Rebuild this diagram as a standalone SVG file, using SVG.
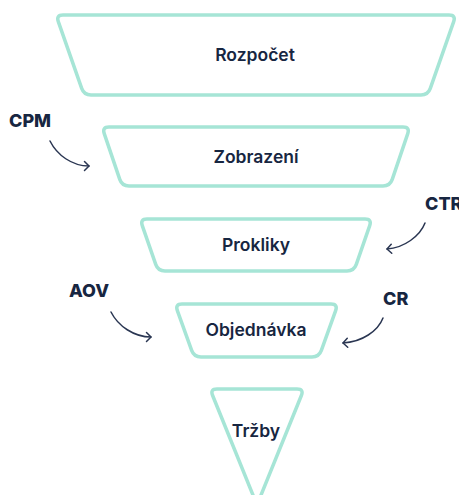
<svg xmlns="http://www.w3.org/2000/svg" width="459" height="495" viewBox="0 0 459 495">
  <defs>
    <style>
      .shape { fill: #ffffff; stroke: #a6e5d6; stroke-width: 3.5; }
      .node-label { font-family: Inter, "Noto Sans", "DejaVu Sans", sans-serif; font-weight: 600; font-size: 17.5px; fill: #172641; text-anchor: middle; }
      .metric { font-family: Inter, "Noto Sans", "DejaVu Sans", sans-serif; font-weight: 800; font-size: 18px; fill: #172641; }
      .conn { fill: none; stroke: #2a3652; stroke-width: 1.5; stroke-linecap: round; }
    </style>
    <marker id="chev" markerUnits="userSpaceOnUse" markerWidth="14" markerHeight="14" refX="10" refY="7" orient="auto" overflow="visible">
      <path d="M5.5,2.5 L10,7 L5.5,11.5" fill="none" stroke="#2a3652" stroke-width="1.5" stroke-linecap="round" stroke-linejoin="round"/>
    </marker>
  </defs>
  <rect width="459" height="495" fill="#ffffff"/>

  <g id="rozpocet">
    <path class="shape" d="M63,15 H449 Q456,15 453.69,21.61 L430.31,88.39 Q428,95 421,95 H91 Q84,95 81.69,88.39 L58.31,21.61 Q56,15 63,15 Z"/>
    <text class="node-label" x="255" y="61">Rozpočet</text>
  </g>

  <g id="zobrazeni">
    <path class="shape" d="M109,127 H403 Q410,127 407.75,133.63 L392.25,179.37 Q390,186 383,186 H129 Q122,186 119.75,179.37 L104.25,133.63 Q102,127 109,127 Z"/>
    <text class="node-label" x="256" y="163">Zobrazení</text>
  </g>

  <g id="prokliky">
    <path class="shape" d="M147,219 H365 Q372,219 369.71,225.61 L356.29,264.39 Q354,271 347,271 H165 Q158,271 155.71,264.39 L142.29,225.61 Q140,219 147,219 Z"/>
    <text class="node-label" x="256" y="251">Prokliky</text>
  </g>

  <g id="objednavka">
    <path class="shape" d="M182,304 H331 Q338,304 335.64,310.59 L321.36,350.41 Q319,357 312,357 H201 Q194,357 191.64,350.41 L177.36,310.59 Q175,304 182,304 Z"/>
    <text class="node-label" x="256" y="336">Objednávka</text>
  </g>

  <g id="trzby">
    <path class="shape" d="M217,389 H297 Q304,389 301.37,395.49 L259.63,498.51 Q257,505 254.37,498.51 L212.63,395.49 Q210,389 217,389 Z"/>
    <text class="node-label" x="256" y="437">Tržby</text>
  </g>

  <g id="cpm"><text class="metric" x="9" y="127">CPM</text></g>
  <g id="ctr"><text class="metric" x="425" y="210">CTR</text></g>
  <g id="aov"><text class="metric" x="69" y="297">AOV</text></g>
  <g id="cr"><text class="metric" x="383" y="305">CR</text></g>

  <g id="connectors">
    <path class="conn" marker-end="url(#chev)" d="M50,141 C57,155 72,166 89,166"/>
    <path class="conn" marker-end="url(#chev)" d="M425,223 C420,236 404,248 387,249"/>
    <path class="conn" marker-end="url(#chev)" d="M111,312 C118,326 134,337 151,337"/>
    <path class="conn" marker-end="url(#chev)" d="M383,318 C378,331 362,342 343,343"/>
  </g>
</svg>
